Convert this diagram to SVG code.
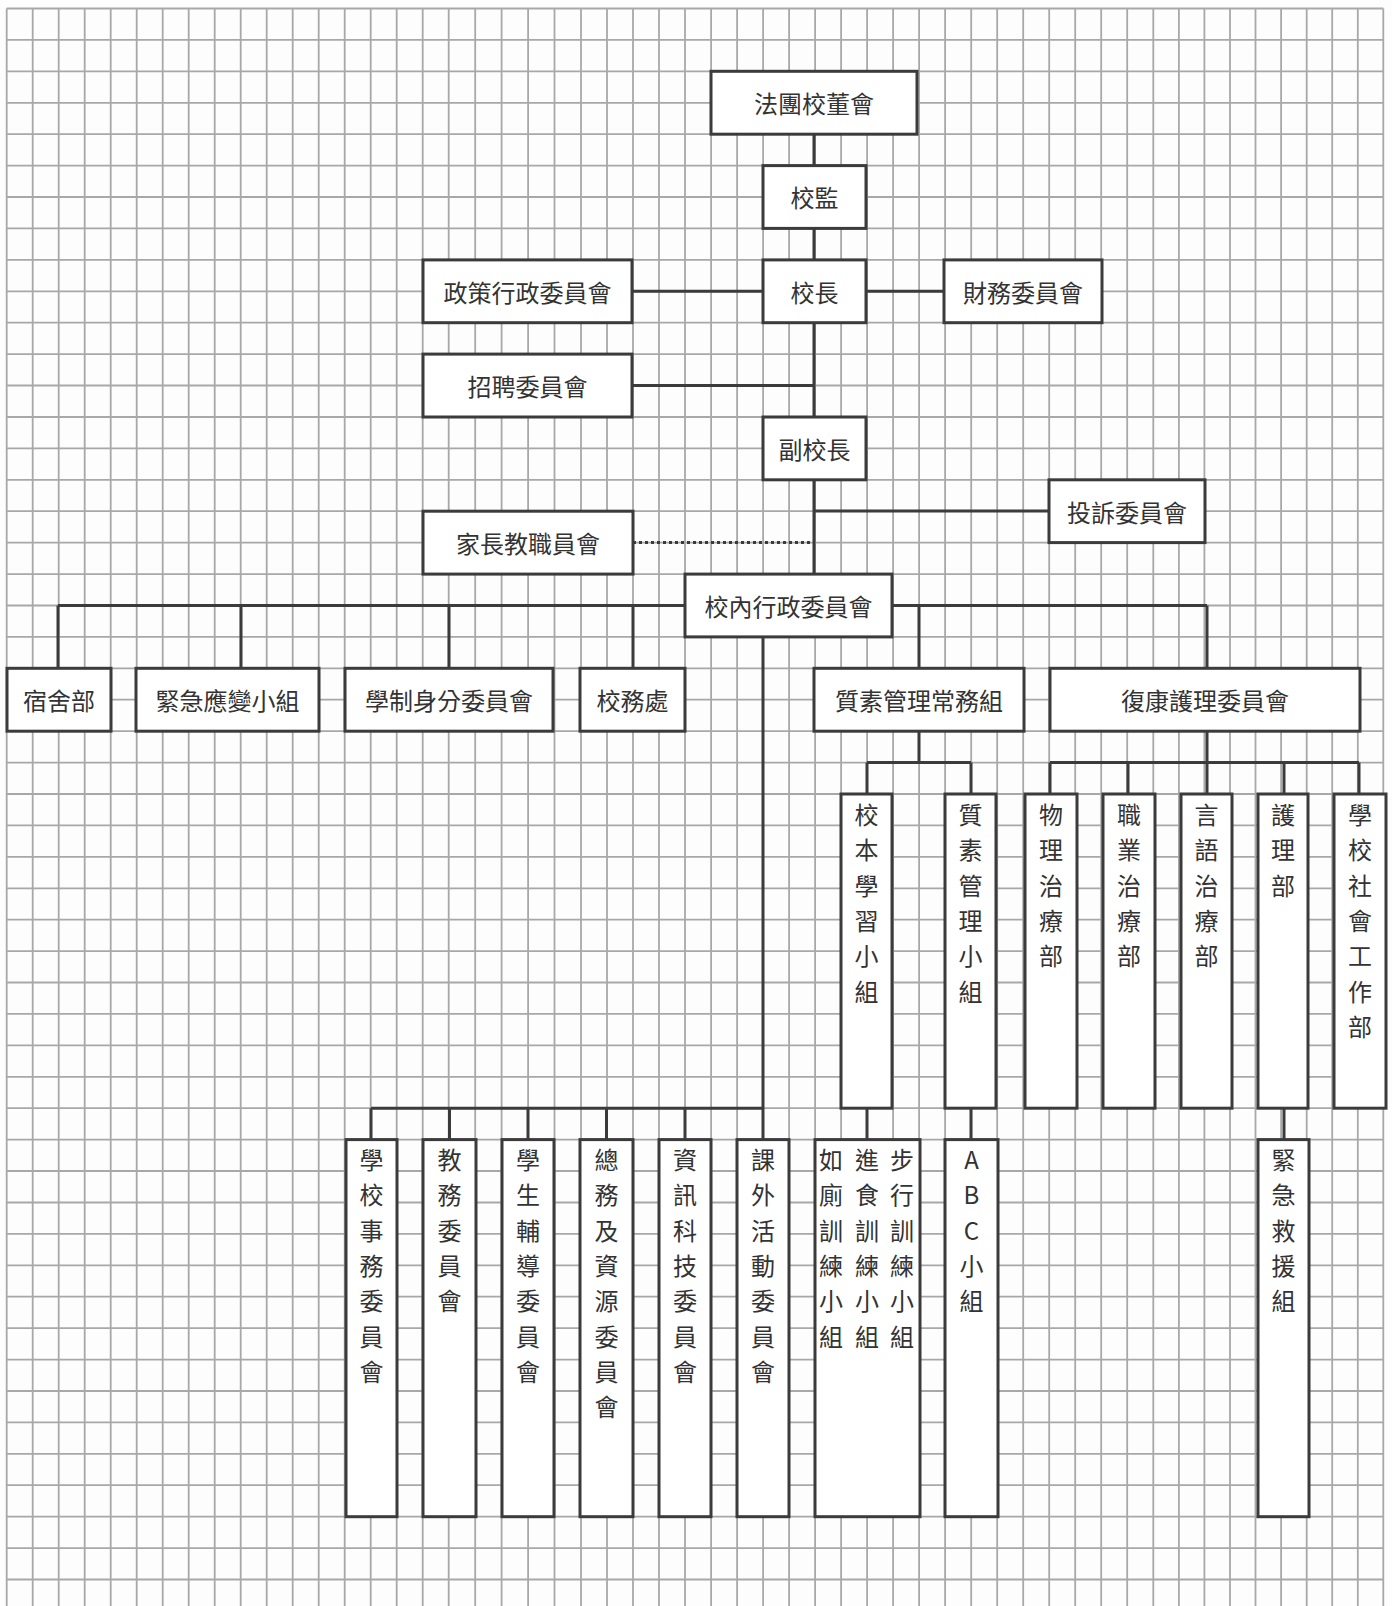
<svg xmlns="http://www.w3.org/2000/svg" width="1392" height="1606" viewBox="0 0 1392 1606">
<style>
.g{stroke:#a8a8a8;stroke-width:1.8;fill:none}
.box{fill:#fff;stroke:#3b3b3b;stroke-width:3}
.c{stroke:#3b3b3b;stroke-width:3;fill:none}
.d{stroke:#3b3b3b;stroke-width:3;fill:none;stroke-dasharray:3 3}
.t{font-family:"Noto Sans CJK TC","Noto Sans CJK SC",sans-serif;font-size:24px;fill:#333;text-anchor:middle}
</style>
<rect width="1392" height="1606" fill="#fdfdfd"/>
<g id="grid" class="g">
<path d="M6.7 8.5V1606M32.7 8.5V1606M58.7 8.5V1606M84.7 8.5V1606M110.7 8.5V1606M136.7 8.5V1606M162.7 8.5V1606M188.7 8.5V1606M214.7 8.5V1606M240.7 8.5V1606M266.7 8.5V1606M292.7 8.5V1606M318.7 8.5V1606M344.7 8.5V1606M370.7 8.5V1606M396.7 8.5V1606M422.7 8.5V1606M448.7 8.5V1606M475.2 8.5V1606M501.6 8.5V1606M528.1 8.5V1606M554.5 8.5V1606M581 8.5V1606M607 8.5V1606M633 8.5V1606M659 8.5V1606M685 8.5V1606M711.1 8.5V1606M737.1 8.5V1606M763.1 8.5V1606M789.1 8.5V1606M815.1 8.5V1606M841.1 8.5V1606M867.1 8.5V1606M893.1 8.5V1606M919.1 8.5V1606M945.1 8.5V1606M971.2 8.5V1606M997.2 8.5V1606M1023.2 8.5V1606M1049.2 8.5V1606M1075.2 8.5V1606M1101.2 8.5V1606M1127.2 8.5V1606M1153.3 8.5V1606M1178.9 8.5V1606M1204.4 8.5V1606M1230 8.5V1606M1255.5 8.5V1606M1281.1 8.5V1606M1306.7 8.5V1606M1332.2 8.5V1606M1357.8 8.5V1606M1383.3 8.5V1606"/>
<path d="M6.7 8.5H1383.3M6.7 39.9H1383.3M6.7 71.3H1383.3M6.7 102.8H1383.3M6.7 134.2H1383.3M6.7 165.6H1383.3M6.7 197H1383.3M6.7 228.4H1383.3M6.7 259.9H1383.3M6.7 291.3H1383.3M6.7 322.7H1383.3M6.7 354.1H1383.3M6.7 385.5H1383.3M6.7 417H1383.3M6.7 448.4H1383.3M6.7 479.8H1383.3M6.7 511.2H1383.3M6.7 542.6H1383.3M6.7 574.1H1383.3M6.7 605.5H1383.3M6.7 636.9H1383.3M6.7 668.3H1383.3M6.7 699.7H1383.3M6.7 731.2H1383.3M6.7 762.6H1383.3M6.7 794H1383.3M6.7 825.4H1383.3M6.7 856.8H1383.3M6.7 888.3H1383.3M6.7 919.7H1383.3M6.7 951.1H1383.3M6.7 982.5H1383.3M6.7 1013.9H1383.3M6.7 1045.4H1383.3M6.7 1076.8H1383.3M6.7 1108.2H1383.3M6.7 1139.6H1383.3M6.7 1171H1383.3M6.7 1202.5H1383.3M6.7 1233.9H1383.3M6.7 1265.3H1383.3M6.7 1296.7H1383.3M6.7 1328.1H1383.3M6.7 1359.6H1383.3M6.7 1391H1383.3M6.7 1422.4H1383.3M6.7 1453.8H1383.3M6.7 1485.2H1383.3M6.7 1516.7H1383.3M6.7 1548.1H1383.3M6.7 1579.5H1383.3"/>
</g>
<g id="connectors">
<path class="c" d="M814 134V574"/>
<path class="c" d="M632 291.3H944"/>
<path class="c" d="M632 385.5H814"/>
<path class="c" d="M814 511H1049"/>
<path class="d" d="M633 542.6H814"/>
<path class="c" d="M58 605.5H1207M58 605.5V668.3M241 605.5V668.3M449 605.5V668.3M633 605.5V668.3M919 605.5V668.3M1207 605.5V668.3"/>
<path class="c" d="M763 636.9V1139.6M371 1108.2H763M371 1108.2V1139.6M449.5 1108.2V1139.6M528 1108.2V1139.6M606.5 1108.2V1139.6M685 1108.2V1139.6"/>
<path class="c" d="M919 731.2V762.6M867 762.6H971M867 762.6V794M971 762.6V794"/>
<path class="c" d="M1207 731.2V762.6M1050 762.6H1359M1050 762.6V794M1128 762.6V794M1207 762.6V794M1284 762.6V794M1359 762.6V794"/>
<path class="c" d="M867 1108.2V1139.6M971 1108.2V1139.6M1284 1108.2V1139.6"/>
</g>
<g id="n_board"><rect class="box" x="711" y="71.3" width="206" height="62.9"/><text class="t" x="814" y="113">法團校董會</text></g>
<g id="n_supervisor"><rect class="box" x="763" y="165.6" width="103" height="62.8"/><text class="t" x="814.5" y="207">校監</text></g>
<g id="n_principal"><rect class="box" x="763" y="259.9" width="103" height="62.8"/><text class="t" x="814.5" y="301.5">校長</text></g>
<g id="n_policy"><rect class="box" x="423" y="259.9" width="209" height="62.8"/><text class="t" x="527.5" y="301.5">政策行政委員會</text></g>
<g id="n_finance"><rect class="box" x="944" y="259.9" width="158" height="62.8"/><text class="t" x="1023" y="301.5">財務委員會</text></g>
<g id="n_recruit"><rect class="box" x="423" y="354.1" width="209" height="62.9"/><text class="t" x="527.5" y="395.5">招聘委員會</text></g>
<g id="n_vice"><rect class="box" x="763" y="417" width="103" height="62.8"/><text class="t" x="814.5" y="458.5">副校長</text></g>
<g id="n_complaint"><rect class="box" x="1049" y="479.8" width="156" height="62.8"/><text class="t" x="1127" y="521.5">投訴委員會</text></g>
<g id="n_pta"><rect class="box" x="423" y="511.2" width="210" height="62.9"/><text class="t" x="528" y="552.5">家長教職員會</text></g>
<g id="n_admin"><rect class="box" x="685" y="574.1" width="207" height="62.8"/><text class="t" x="788.5" y="615.5">校內行政委員會</text></g>
<g id="n_dorm"><rect class="box" x="7" y="668.3" width="104" height="62.9"/><text class="t" x="59" y="709.5">宿舍部</text></g>
<g id="n_emerg"><rect class="box" x="136" y="668.3" width="183" height="62.9"/><text class="t" x="227.5" y="709.5">緊急應變小組</text></g>
<g id="n_status"><rect class="box" x="345" y="668.3" width="208" height="62.9"/><text class="t" x="449" y="709.5">學制身分委員會</text></g>
<g id="n_office"><rect class="box" x="580" y="668.3" width="105" height="62.9"/><text class="t" x="632.5" y="709.5">校務處</text></g>
<g id="n_qm"><rect class="box" x="814" y="668.3" width="210" height="62.9"/><text class="t" x="919" y="709.5">質素管理常務組</text></g>
<g id="n_rehab"><rect class="box" x="1050" y="668.3" width="310" height="62.9"/><text class="t" x="1205" y="709.5">復康護理委員會</text></g>
<g id="n_sbl"><rect class="box" x="841" y="794" width="51" height="314.2"/><text class="t"><tspan x="866.5" y="824">校</tspan><tspan x="866.5" y="859.3">本</tspan><tspan x="866.5" y="894.6">學</tspan><tspan x="866.5" y="929.9">習</tspan><tspan x="866.5" y="965.2">小</tspan><tspan x="866.5" y="1000.5">組</tspan></text></g>
<g id="n_qmg"><rect class="box" x="945" y="794" width="51" height="314.2"/><text class="t"><tspan x="970.5" y="824">質</tspan><tspan x="970.5" y="859.3">素</tspan><tspan x="970.5" y="894.6">管</tspan><tspan x="970.5" y="929.9">理</tspan><tspan x="970.5" y="965.2">小</tspan><tspan x="970.5" y="1000.5">組</tspan></text></g>
<g id="n_pt"><rect class="box" x="1025" y="794" width="52" height="314.2"/><text class="t"><tspan x="1051" y="824">物</tspan><tspan x="1051" y="859.3">理</tspan><tspan x="1051" y="894.6">治</tspan><tspan x="1051" y="929.9">療</tspan><tspan x="1051" y="965.2">部</tspan></text></g>
<g id="n_ot"><rect class="box" x="1103" y="794" width="52" height="314.2"/><text class="t"><tspan x="1129" y="824">職</tspan><tspan x="1129" y="859.3">業</tspan><tspan x="1129" y="894.6">治</tspan><tspan x="1129" y="929.9">療</tspan><tspan x="1129" y="965.2">部</tspan></text></g>
<g id="n_st"><rect class="box" x="1181" y="794" width="51" height="314.2"/><text class="t"><tspan x="1206.5" y="824">言</tspan><tspan x="1206.5" y="859.3">語</tspan><tspan x="1206.5" y="894.6">治</tspan><tspan x="1206.5" y="929.9">療</tspan><tspan x="1206.5" y="965.2">部</tspan></text></g>
<g id="n_nurse"><rect class="box" x="1258" y="794" width="50" height="314.2"/><text class="t"><tspan x="1283" y="824">護</tspan><tspan x="1283" y="859.3">理</tspan><tspan x="1283" y="894.6">部</tspan></text></g>
<g id="n_social"><rect class="box" x="1334" y="794" width="52" height="314.2"/><text class="t"><tspan x="1360" y="824">學</tspan><tspan x="1360" y="859.3">校</tspan><tspan x="1360" y="894.6">社</tspan><tspan x="1360" y="929.9">會</tspan><tspan x="1360" y="965.2">工</tspan><tspan x="1360" y="1000.5">作</tspan><tspan x="1360" y="1035.8">部</tspan></text></g>
<g id="n_affairs"><rect class="box" x="346" y="1139.6" width="51" height="377.1"/><text class="t"><tspan x="371.5" y="1169">學</tspan><tspan x="371.5" y="1204.3">校</tspan><tspan x="371.5" y="1239.6">事</tspan><tspan x="371.5" y="1274.9">務</tspan><tspan x="371.5" y="1310.2">委</tspan><tspan x="371.5" y="1345.5">員</tspan><tspan x="371.5" y="1380.8">會</tspan></text></g>
<g id="n_academic"><rect class="box" x="423" y="1139.6" width="53" height="377.1"/><text class="t"><tspan x="449.5" y="1169">教</tspan><tspan x="449.5" y="1204.3">務</tspan><tspan x="449.5" y="1239.6">委</tspan><tspan x="449.5" y="1274.9">員</tspan><tspan x="449.5" y="1310.2">會</tspan></text></g>
<g id="n_guidance"><rect class="box" x="502" y="1139.6" width="52" height="377.1"/><text class="t"><tspan x="528" y="1169">學</tspan><tspan x="528" y="1204.3">生</tspan><tspan x="528" y="1239.6">輔</tspan><tspan x="528" y="1274.9">導</tspan><tspan x="528" y="1310.2">委</tspan><tspan x="528" y="1345.5">員</tspan><tspan x="528" y="1380.8">會</tspan></text></g>
<g id="n_general"><rect class="box" x="580" y="1139.6" width="53" height="377.1"/><text class="t"><tspan x="606.5" y="1169">總</tspan><tspan x="606.5" y="1204.3">務</tspan><tspan x="606.5" y="1239.6">及</tspan><tspan x="606.5" y="1274.9">資</tspan><tspan x="606.5" y="1310.2">源</tspan><tspan x="606.5" y="1345.5">委</tspan><tspan x="606.5" y="1380.8">員</tspan><tspan x="606.5" y="1416.1">會</tspan></text></g>
<g id="n_it"><rect class="box" x="659" y="1139.6" width="52" height="377.1"/><text class="t"><tspan x="685" y="1169">資</tspan><tspan x="685" y="1204.3">訊</tspan><tspan x="685" y="1239.6">科</tspan><tspan x="685" y="1274.9">技</tspan><tspan x="685" y="1310.2">委</tspan><tspan x="685" y="1345.5">員</tspan><tspan x="685" y="1380.8">會</tspan></text></g>
<g id="n_eca"><rect class="box" x="737" y="1139.6" width="52" height="377.1"/><text class="t"><tspan x="763" y="1169">課</tspan><tspan x="763" y="1204.3">外</tspan><tspan x="763" y="1239.6">活</tspan><tspan x="763" y="1274.9">動</tspan><tspan x="763" y="1310.2">委</tspan><tspan x="763" y="1345.5">員</tspan><tspan x="763" y="1380.8">會</tspan></text></g>
<g id="n_training"><rect class="box" x="815" y="1139.6" width="105" height="377.1"/>
<text class="t"><tspan x="831" y="1169">如</tspan><tspan x="831" y="1204.3">廁</tspan><tspan x="831" y="1239.6">訓</tspan><tspan x="831" y="1274.9">練</tspan><tspan x="831" y="1310.2">小</tspan><tspan x="831" y="1345.5">組</tspan></text>
<text class="t"><tspan x="867" y="1169">進</tspan><tspan x="867" y="1204.3">食</tspan><tspan x="867" y="1239.6">訓</tspan><tspan x="867" y="1274.9">練</tspan><tspan x="867" y="1310.2">小</tspan><tspan x="867" y="1345.5">組</tspan></text>
<text class="t"><tspan x="902" y="1169">步</tspan><tspan x="902" y="1204.3">行</tspan><tspan x="902" y="1239.6">訓</tspan><tspan x="902" y="1274.9">練</tspan><tspan x="902" y="1310.2">小</tspan><tspan x="902" y="1345.5">組</tspan></text></g>
<g id="n_abc"><rect class="box" x="945" y="1139.6" width="53" height="377.1"/><text class="t"><tspan x="971.5" y="1169">A</tspan><tspan x="971.5" y="1204.3">B</tspan><tspan x="971.5" y="1239.6">C</tspan><tspan x="971.5" y="1274.9">小</tspan><tspan x="971.5" y="1310.2">組</tspan></text></g>
<g id="n_rescue"><rect class="box" x="1258" y="1139.6" width="51" height="377.1"/><text class="t"><tspan x="1283.5" y="1169">緊</tspan><tspan x="1283.5" y="1204.3">急</tspan><tspan x="1283.5" y="1239.6">救</tspan><tspan x="1283.5" y="1274.9">援</tspan><tspan x="1283.5" y="1310.2">組</tspan></text></g>
</svg>
